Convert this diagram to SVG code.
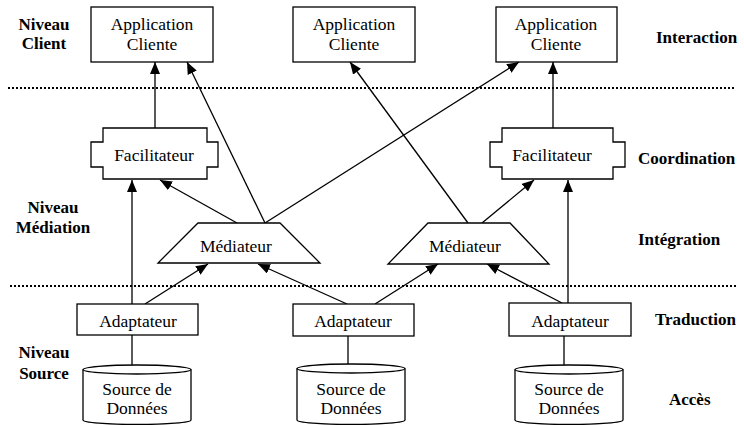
<svg xmlns="http://www.w3.org/2000/svg" width="744" height="425" viewBox="0 0 744 425">
<style>
.sh{fill:#fff;stroke:#000;stroke-width:1.3}
text{font-family:Tinos,'Liberation Serif','Times New Roman',Times,'Noto Serif','DejaVu Serif',FreeSerif,serif;fill:#000}
.t{font-size:17.5px;text-anchor:middle}
.b{font-size:17px;font-weight:bold}
.c{text-anchor:middle}
.dot{stroke:#000;stroke-width:2;stroke-dasharray:2 2;fill:none}
.ln{stroke:#000;stroke-width:1.3;fill:none}
.ar{marker-end:url(#ah)}
</style>
<defs>
<marker id="ah" markerUnits="userSpaceOnUse" markerWidth="12" markerHeight="10" viewBox="0 0 12 10" refX="12" refY="5" orient="auto">
<path d="M0,0 L12,5 L0,10 z" fill="#000"/>
</marker>
</defs>
<rect width="744" height="425" fill="#fff"/>
<g id="separators">
<line class="dot" x1="8" y1="88" x2="734" y2="88"/>
<line class="dot" x1="10" y1="286" x2="736" y2="286"/>
</g>
<g id="labels">
<text class="b c" x="44" y="30">Niveau</text>
<text class="b c" x="44" y="49">Client</text>
<text class="b c" x="53" y="213">Niveau</text>
<text class="b c" x="53" y="233">Médiation</text>
<text class="b c" x="44" y="358">Niveau</text>
<text class="b c" x="44" y="379">Source</text>
<text class="b" x="656" y="43">Interaction</text>
<text class="b" x="638" y="164">Coordination</text>
<text class="b" x="638" y="245">Intégration</text>
<text class="b" x="655" y="325">Traduction</text>
<text class="b" x="669" y="405">Accès</text>
</g>
<g id="connectors">
<line class="ln ar" x1="155" y1="128" x2="155" y2="62"/>
<line class="ln ar" x1="265" y1="223" x2="187" y2="62"/>
<line class="ln ar" x1="265" y1="223" x2="519" y2="62"/>
<line class="ln ar" x1="237" y1="223" x2="160" y2="180"/>
<line class="ln ar" x1="132" y1="304" x2="132" y2="180"/>
<line class="ln ar" x1="145" y1="304" x2="208" y2="264"/>
<line class="ln ar" x1="347" y1="304" x2="258" y2="264"/>
<line class="ln ar" x1="375" y1="304" x2="438" y2="264"/>
<line class="ln ar" x1="468" y1="223" x2="350" y2="62"/>
<line class="ln ar" x1="482" y1="223" x2="534" y2="180"/>
<line class="ln ar" x1="553" y1="128" x2="553" y2="62"/>
<line class="ln ar" x1="568" y1="303" x2="568" y2="180"/>
<line class="ln ar" x1="562" y1="303" x2="487" y2="264"/>
<line class="ln" x1="132" y1="335" x2="132" y2="366"/>
<line class="ln" x1="348" y1="336" x2="348" y2="365"/>
<line class="ln" x1="564" y1="336" x2="564" y2="366"/>
</g>
<g id="app1">
<rect class="sh" x="91" y="7" width="122" height="55"/>
<text class="t" x="152" y="30">Application</text>
<text class="t" x="152" y="50">Cliente</text>
</g>
<g id="app2">
<rect class="sh" x="293" y="7" width="122" height="55"/>
<text class="t" x="354" y="30">Application</text>
<text class="t" x="354" y="50">Cliente</text>
</g>
<g id="app3">
<rect class="sh" x="496" y="7" width="121" height="55"/>
<text class="t" x="556" y="30">Application</text>
<text class="t" x="556" y="50">Cliente</text>
</g>
<g id="facilitateur1">
<path class="sh" d="M103,128 H207 V142 H218 V167 H207 V179 H103 V167 H91 V142 H103 Z"/>
<text class="t" x="154" y="161">Facilitateur</text>
</g>
<g id="facilitateur2">
<path class="sh" d="M502,128 H613 V142 H625 V167 H613 V179 H502 V167 H490 V142 H502 Z"/>
<text class="t" x="552" y="161">Facilitateur</text>
</g>
<g id="mediateur1">
<path class="sh" d="M198,223 H280 L320,263 H158 Z"/>
<text class="t" x="236" y="252">Médiateur</text>
</g>
<g id="mediateur2">
<path class="sh" d="M428,223 H510 L549,264 H388 Z"/>
<text class="t" x="465" y="252">Médiateur</text>
</g>
<g id="adaptateur1">
<rect class="sh" x="77" y="304" width="121" height="31"/>
<text class="t" x="138" y="327">Adaptateur</text>
</g>
<g id="adaptateur2">
<rect class="sh" x="293" y="304" width="121" height="32"/>
<text class="t" x="353" y="327">Adaptateur</text>
</g>
<g id="adaptateur3">
<rect class="sh" x="509" y="303" width="122" height="33"/>
<text class="t" x="570" y="327">Adaptateur</text>
</g>
<g id="source1">
<path class="sh" d="M83,369.5 V420 A54,4.5 0 0 0 191,420 V369.5"/>
<ellipse class="sh" cx="137" cy="369.5" rx="54" ry="4.5"/>
<text class="t" x="137" y="395">Source de</text>
<text class="t" x="137" y="414">Données</text>
</g>
<g id="source2">
<path class="sh" d="M297,368.5 V420 A54,4.5 0 0 0 405,420 V368.5"/>
<ellipse class="sh" cx="351" cy="368.5" rx="54" ry="4.5"/>
<text class="t" x="351" y="395">Source de</text>
<text class="t" x="351" y="414">Données</text>
</g>
<g id="source3">
<path class="sh" d="M515,369.5 V420 A54,4.5 0 0 0 623,420 V369.5"/>
<ellipse class="sh" cx="569" cy="369.5" rx="54" ry="4.5"/>
<text class="t" x="569" y="395">Source de</text>
<text class="t" x="569" y="414">Données</text>
</g>
</svg>
